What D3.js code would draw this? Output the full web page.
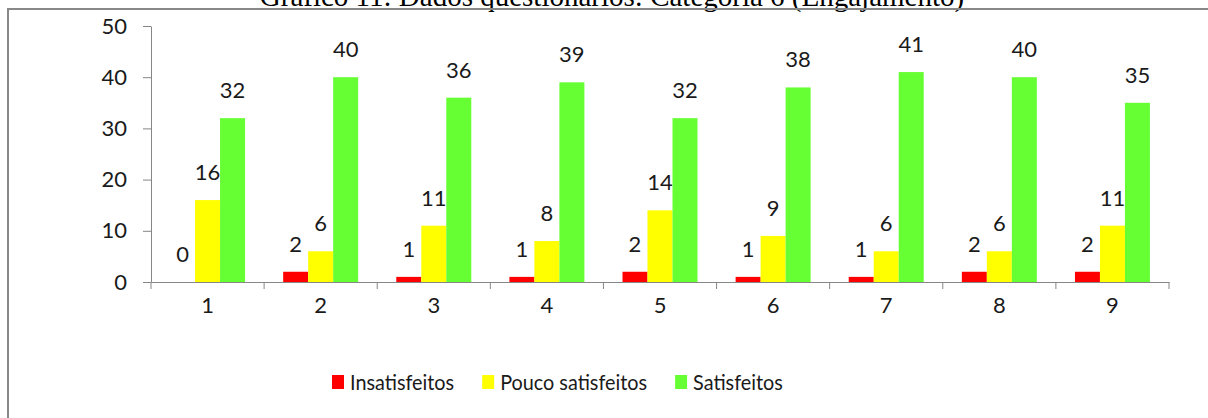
<!DOCTYPE html>
<html>
<head>
<meta charset="utf-8">
<script src="https://cdn.jsdelivr.net/npm/d3@7"></script>
<style>
  html, body { margin: 0; padding: 0; background: #fff; overflow: hidden; }
  svg { display: block; }
  .lbl { font-family: Lato, "Open Sans", sans-serif; fill: #1a1a1a; }
</style>
</head>
<body>
<svg id="chart" width="1208" height="418"></svg>
<script>
// Chart data
const titleText = 'Gráfico 11: Dados questionários: Categoria 6 (Engajamento)';
const categories = ['1', '2', '3', '4', '5', '6', '7', '8', '9'];
const seriesNames = ['Insatisfeitos', 'Pouco satisfeitos', 'Satisfeitos'];
const insatisfeitos = [0, 2, 1, 1, 2, 1, 1, 2, 2];
const poucoSatisfeitos = [16, 6, 11, 8, 14, 9, 6, 6, 11];
const satisfeitos = [32, 40, 36, 39, 32, 38, 41, 40, 35];
const yTicks = [0, 10, 20, 30, 40, 50];
const seriesColors = ['#ff0000', '#ffff00', '#66ff33'];

const seriesValues = [insatisfeitos, poucoSatisfeitos, satisfeitos];

const svg = d3.select('#chart');
const axisColor = '#868686';
const fontSize = 22;

// Title (clipped by the top edge like the original)
svg.append('text')
    .attr('x', 612)
    .attr('y', 6)
    .attr('text-anchor', 'middle')
    .style('font-family', "'Liberation Serif', 'Times New Roman', serif")
    .style('font-size', '29px')
    .attr('fill', '#000')
    .text(titleText);

// Outer frame
svg.append('path')
    .attr('d', 'M8,420 L8,9 L1212,9')
    .attr('fill', 'none')
    .attr('stroke', '#888')
    .attr('stroke-width', 2);

// Scales
const plot = { left: 151, right: 1169, top: 26, bottom: 282 };

const x0 = d3.scaleBand()
    .domain(categories)
    .range([plot.left, plot.right])
    .paddingInner(0.337)
    .paddingOuter(0.1685);

const x1 = d3.scaleBand()
    .domain(seriesNames)
    .range([0, x0.bandwidth()]);

const y = d3.scaleLinear()
    .domain([0, 50])
    .range([plot.bottom, plot.top]);

// Bars and value labels
seriesNames.forEach((name, si) => {
    const g = svg.append('g').attr('class', 'series');
    const data = categories.map((c, i) => ({ cat: c, value: seriesValues[si][i] }));

    g.selectAll('rect')
        .data(data)
        .join('rect')
        .attr('x', d => x0(d.cat) + x1(name))
        .attr('y', d => y(d.value))
        .attr('width', x1.bandwidth())
        .attr('height', d => y(0) - y(d.value))
        .attr('fill', seriesColors[si]);

    g.selectAll('text')
        .data(data)
        .join('text')
        .attr('class', 'lbl')
        .attr('x', d => x0(d.cat) + x1(name) + x1.bandwidth() / 2)
        .attr('y', d => y(d.value) - 20)
        .attr('text-anchor', 'middle')
        .style('font-size', fontSize + 'px')
        .text(d => d.value);
});

// Y axis
const yAxis = svg.append('g')
    .attr('transform', `translate(${plot.left},0)`)
    .call(d3.axisLeft(y).tickValues(yTicks).tickSize(8).tickPadding(16).tickSizeOuter(0));
yAxis.select('.domain').attr('stroke', axisColor);
yAxis.selectAll('.tick line').attr('stroke', axisColor);
yAxis.selectAll('.tick text')
    .attr('class', 'lbl')
    .attr('fill', '#1a1a1a')
    .style('font-size', fontSize + 'px');

// X axis
const xAxis = svg.append('g')
    .attr('transform', `translate(0,${plot.bottom})`)
    .call(d3.axisBottom(x0).tickSize(0).tickPadding(15).tickSizeOuter(0));
xAxis.select('.domain').attr('stroke', axisColor);
xAxis.selectAll('.tick text')
    .attr('class', 'lbl')
    .attr('fill', '#1a1a1a')
    .style('font-size', fontSize + 'px');

// Category boundary ticks
const boundaries = d3.range(categories.length + 1).map(i => plot.left + i * x0.step());
xAxis.selectAll('.bound')
    .data(boundaries)
    .join('line')
    .attr('class', 'bound')
    .attr('x1', d => d)
    .attr('x2', d => d)
    .attr('y1', 0)
    .attr('y2', 7)
    .attr('stroke', axisColor);

// Legend (text squeezed a bit to mimic the narrow Calibri face)
const legend = svg.append('g').attr('transform', 'translate(332,390)');
let lx = 0;
seriesNames.forEach((name, i) => {
    legend.append('rect')
        .attr('x', lx)
        .attr('y', -15)
        .attr('width', 12)
        .attr('height', 14)
        .attr('fill', seriesColors[i]);
    const t = legend.append('text')
        .attr('class', 'lbl')
        .attr('x', lx + 18)
        .attr('y', 0)
        .style('font-size', fontSize + 'px')
        .text(name);
    const w = t.node().getComputedTextLength() * 0.9;
    t.attr('textLength', w).attr('lengthAdjust', 'spacingAndGlyphs');
    lx += 18 + w + 28;
});
</script>
</body>
</html>
